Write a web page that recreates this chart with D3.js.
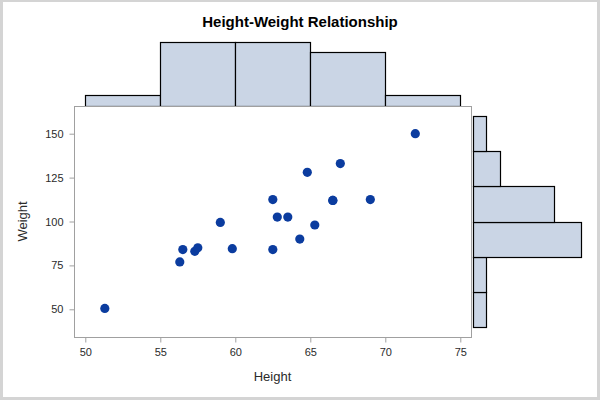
<!DOCTYPE html>
<html>
<head>
<meta charset="utf-8">
<script src="https://cdn.jsdelivr.net/npm/d3@7"></script>
<style>
  html, body { margin: 0; padding: 0; background: #fff; }
  svg { display: block; }
  text { font-family: "Liberation Sans", Arial, sans-serif; }
</style>
</head>
<body>
<svg id="chart" width="600" height="400"></svg>
<script>
// ---- Data (sashelp.class) ----
const names   = ["Alfred","Alice","Barbara","Carol","Henry","James","Jane","Janet","Jeffrey","John","Joyce","Judy","Louise","Mary","Philip","Robert","Ronald","Thomas","William"];
const heights = [69.0, 56.5, 65.3, 62.8, 63.5, 57.3, 59.8, 62.5, 62.5, 59.0, 51.3, 64.3, 56.3, 66.5, 72.0, 64.8, 67.0, 57.5, 66.5];
const weights = [112.5, 84.0, 98.0, 102.5, 102.5, 83.0, 84.5, 112.5, 84.0, 99.5, 50.5, 90.0, 77.0, 112.0, 150.0, 128.0, 133.0, 85.0, 112.0];
const heightBinEdges = [50, 55, 60, 65, 70, 75];
const weightBinEdges = [40, 60, 80, 100, 120, 140, 160];
const xTicks = [50, 55, 60, 65, 70, 75];
const yTicks = [50, 75, 100, 125, 150];
const titleText = "Height-Weight Relationship";
const xLabel = "Height";
const yLabel = "Weight";

// ---- Layout ----
const frame = { left: 74, right: 471, top: 106, bottom: 337 };
const barFill = "#cad5e5";
const markerFill = "#0b3c9f";
const axisGray = "#a0a0a0";
const textColor = "#2b2b2b";

const svg = d3.select("#chart");

// outer light-gray border
svg.append("rect").attr("x", 0).attr("y", 0).attr("width", 600).attr("height", 400).attr("fill", "#d4d4d4");
svg.append("rect").attr("x", 3).attr("y", 2).attr("width", 594).attr("height", 395).attr("fill", "#fff");

// ---- Scales ----
const x = d3.scaleLinear().domain([50, 75]).range([85.3, 460.3]);
const y = d3.scaleLinear().domain([50, 150]).range([309.3, 133.7]);

// ---- Histograms ----
const hBins = d3.bin().domain([heightBinEdges[0], heightBinEdges[heightBinEdges.length - 1]])
  .thresholds(heightBinEdges.slice(1, -1))(heights);
const wBins = d3.bin().domain([weightBinEdges[0], weightBinEdges[weightBinEdges.length - 1]])
  .thresholds(weightBinEdges.slice(1, -1))(weights);

const topCount = d3.scaleLinear().domain([0, 6]).range([105.5, 41.7]);
const rightCount = d3.scaleLinear().domain([0, 8]).range([472.5, 581.3]);

svg.append("g").selectAll("rect").data(hBins).join("rect")
  .attr("x", d => Math.floor(x(d.x0)) + 0.5)
  .attr("width", d => Math.floor(x(d.x1)) - Math.floor(x(d.x0)))
  .attr("y", d => Math.round(topCount(d.length)) + 0.5)
  .attr("height", d => Math.round(topCount(0)) - Math.round(topCount(d.length)))
  .attr("fill", barFill).attr("stroke", "#000").attr("stroke-width", 1.2);

svg.append("g").selectAll("rect").data(wBins).join("rect")
  .attr("x", Math.round(rightCount(0)) + 0.5)
  .attr("width", d => Math.round(rightCount(d.length)) - Math.round(rightCount(0)))
  .attr("y", d => Math.round(y(d.x1)) + 0.5)
  .attr("height", d => Math.round(y(d.x0)) - Math.round(y(d.x1)))
  .attr("fill", barFill).attr("stroke", "#000").attr("stroke-width", 1.2);

// ---- Plot frame ----
svg.append("rect")
  .attr("x", frame.left + 0.5).attr("y", frame.top + 0.5)
  .attr("width", frame.right - frame.left).attr("height", frame.bottom - frame.top)
  .attr("fill", "#fff").attr("stroke", axisGray).attr("stroke-width", 1);

// ---- Axes ----
const xAxis = svg.append("g").attr("transform", `translate(0,${frame.bottom + 0.5})`)
  .call(d3.axisBottom(x).tickValues(xTicks).tickSize(5).tickPadding(6).tickFormat(d3.format("d")));
const yAxis = svg.append("g").attr("transform", `translate(${frame.left + 0.5},0)`)
  .call(d3.axisLeft(y).tickValues(yTicks).tickSize(5).tickPadding(6).tickFormat(d3.format("d")));
[xAxis, yAxis].forEach(g => {
  g.select(".domain").remove();
  g.selectAll(".tick line").attr("stroke", axisGray);
  g.selectAll(".tick text").attr("fill", textColor).style("font-size", "11px")
    .style("font-family", "'Liberation Sans', Arial, sans-serif");
});

// ---- Points ----
svg.append("g").selectAll("circle").data(d3.range(heights.length)).join("circle")
  .attr("cx", i => x(heights[i]))
  .attr("cy", i => y(weights[i]))
  .attr("r", 4.6)
  .attr("fill", markerFill);

// ---- Labels ----
svg.append("text").attr("x", 300).attr("y", 27).attr("text-anchor", "middle")
  .style("font-size", "15px").style("font-weight", "bold").attr("fill", "#000").text(titleText);
svg.append("text").attr("x", (frame.left + frame.right) / 2).attr("y", 381).attr("text-anchor", "middle")
  .style("font-size", "13px").attr("fill", textColor).text(xLabel);
svg.append("text").attr("transform", `translate(27,${(frame.top + frame.bottom) / 2}) rotate(-90)`)
  .attr("text-anchor", "middle").style("font-size", "13px").attr("fill", textColor).text(yLabel);
</script>
</body>
</html>
